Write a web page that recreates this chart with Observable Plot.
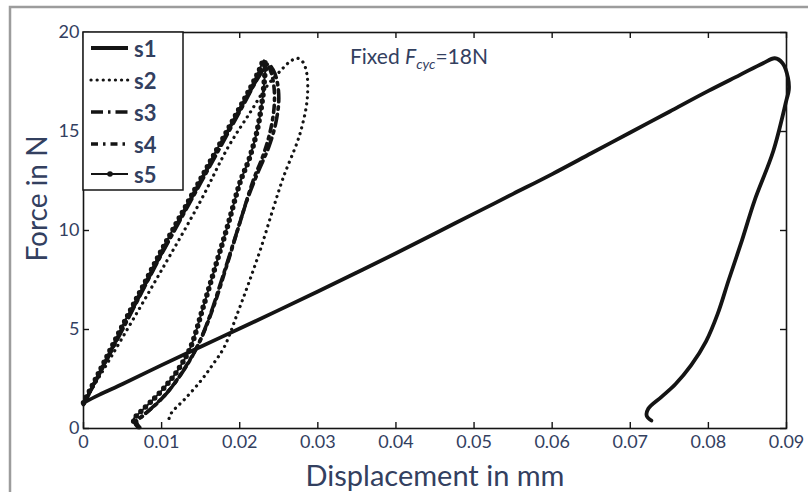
<!DOCTYPE html>
<html><head><meta charset="utf-8">
<script src="https://cdn.jsdelivr.net/npm/d3@7"></script>
<script src="https://cdn.jsdelivr.net/npm/@observablehq/plot@0.6"></script>
<style>body{margin:0;background:#fff} #chart{width:808px;height:492px}</style>
</head><body><div id="chart"></div>
<script>
// Displacement (mm), Force (N) pairs
const s1 = [[0,1.3],[0.002,1.7],[0.005,2.25],[0.01,3.2],[0.015,4.13],[0.02,5.05],[0.025,5.98],[0.03,6.92],[0.035,7.88],[0.04,8.85],[0.045,9.85],[0.05,10.85],[0.055,11.85],[0.06,12.85],[0.065,13.9],[0.07,14.95],[0.075,16.0],[0.08,17.05],[0.084,17.85],[0.087,18.45],[0.0885,18.7],[0.0895,18.45],[0.0902,17.7],[0.0903,17.1],[0.09,16.6],[0.0883,14.0],[0.0859,11.5],[0.0843,9.5],[0.0826,7.5],[0.0812,5.8],[0.0797,4.4],[0.0778,3.2],[0.0758,2.25],[0.074,1.6],[0.0723,1.0],[0.0721,0.65],[0.0727,0.4]];
const s2 = [[0,1.3],[0.002,2.6],[0.005,4.6],[0.01,8.0],[0.015,11.5],[0.0185,14.2],[0.0214,16.0],[0.0235,17.3],[0.0253,18.1],[0.0265,18.55],[0.0274,18.7],[0.0281,18.5],[0.0286,17.9],[0.0287,17.0],[0.0285,16.2],[0.028,15.3],[0.0274,14.5],[0.0256,12.7],[0.0242,11.0],[0.0227,9.1],[0.0212,7.4],[0.0197,5.8],[0.018,4.1],[0.0165,3.2],[0.015,2.4],[0.013,1.5],[0.0112,0.75],[0.0108,0.25]];
const s3 = [[0,1.2],[0.005,5.0],[0.01,8.8],[0.015,12.4],[0.02,16.0],[0.0225,17.8],[0.0236,18.4],[0.0243,18.1],[0.0248,17.5],[0.025,16.6],[0.0246,15.4],[0.0237,14.2],[0.0224,13.0],[0.021,11.6],[0.0193,9.5],[0.0176,7.4],[0.016,5.5],[0.0144,4.0],[0.0126,2.8],[0.0107,1.8],[0.0089,1.1],[0.0075,0.6],[0.0066,0.3],[0.007,0.05]];
const s4 = [[0,1.25],[0.005,5.05],[0.01,8.85],[0.015,12.5],[0.02,16.1],[0.0226,17.9],[0.0234,18.4],[0.024,18.0],[0.0244,17.2],[0.0244,16.2],[0.0239,15.0],[0.023,13.8],[0.0217,12.5],[0.0201,10.5],[0.0184,8.3],[0.0167,6.2],[0.015,4.5],[0.0132,3.2],[0.0113,2.1],[0.0095,1.3],[0.0079,0.75],[0.0068,0.35],[0.0072,0.05]];
const s5 = [[0,1.3],[0.002,2.85],[0.005,5.2],[0.0075,7.1],[0.01,9.0],[0.0125,10.8],[0.015,12.6],[0.0175,14.4],[0.02,16.2],[0.0215,17.3],[0.0225,18.1],[0.0231,18.6],[0.0233,18.3],[0.0232,17.8],[0.0229,16.6],[0.0222,15.0],[0.0212,13.6],[0.0201,12.5],[0.0185,10.3],[0.0169,8.2],[0.0153,6.1],[0.0137,4.1],[0.012,2.9],[0.0102,2.0],[0.0085,1.3],[0.0072,0.8],[0.0064,0.45],[0.0066,0.2]];
const seriesNames = ["s1","s2","s3","s4","s5"];
const xTicks = [0,0.01,0.02,0.03,0.04,0.05,0.06,0.07,0.08,0.09];
const yTicks = [0,5,10,15,20];
const xLabel = "Displacement in mm";
const yLabel = "Force in N";

const textColor = "#33405f";
const ink = "#141414";
const font = "Lato, 'Open Sans', sans-serif";
const styles = {
  s1: {strokeWidth: 3.8},
  s2: {strokeWidth: 3.2, strokeDasharray: "0.1 6", strokeLinecap: "round"},
  s3: {strokeWidth: 3.6, strokeDasharray: "12 5 2.5 5"},
  s4: {strokeWidth: 3.6, strokeDasharray: "7 5 2.5 5"},
  s5: {strokeWidth: 2}
};
const toRows = (arr) => arr.map(([d, f]) => ({d, f}));
const data = {s1: toRows(s1), s2: toRows(s2), s3: toRows(s3), s4: toRows(s4), s5: toRows(s5)};

const W = 808, H = 492, mL = 83, mR = 22, mT = 32, mB = 64;
const pw = W - mL - mR, ph = H - mT - mB, tl = 6;

const lineMarks = seriesNames.map(n => Plot.line(data[n], {x: "d", y: "f", stroke: ink, curve: "catmull-rom", ...styles[n]}));
lineMarks.push(Plot.line(data.s5, {x: "d", y: "f", stroke: ink, strokeWidth: 5.5, strokeDasharray: "0 6.5", strokeLinecap: "round", curve: "catmull-rom"}));

const plot = Plot.plot({
  width: W, height: H,
  marginLeft: mL, marginRight: mR, marginTop: mT, marginBottom: mB,
  style: {fontFamily: font, color: textColor, background: "#fff"},
  x: {domain: [0, 0.09]},
  y: {domain: [0, 20]},
  marks: [
    ...lineMarks,
    Plot.tickX(xTicks, {x: d => d, insetTop: ph - tl, stroke: ink, strokeWidth: 1.4}),
    Plot.tickX(xTicks, {x: d => d, insetBottom: ph - tl, stroke: ink, strokeWidth: 1.4}),
    Plot.tickY(yTicks, {y: d => d, insetRight: pw - tl, stroke: ink, strokeWidth: 1.4}),
    Plot.tickY(yTicks, {y: d => d, insetLeft: pw - tl, stroke: ink, strokeWidth: 1.4}),
    Plot.frame({stroke: ink, strokeWidth: 1.6}),
    Plot.axisX(xTicks, {tickSize: 0, tickPadding: 7, fontSize: 18, fill: textColor, label: null,
      tickFormat: d => d === 0 ? "0" : d.toFixed(2)}),
    Plot.axisY(yTicks, {tickSize: 0, tickPadding: 4, fontSize: 18, fill: textColor, label: null}),
    Plot.text([xLabel], {frameAnchor: "bottom", textAnchor: "middle", lineAnchor: "bottom", dy: 57, fontSize: 29, fill: textColor}),
    Plot.text([yLabel], {frameAnchor: "left", textAnchor: "middle", rotate: -90, dx: -45, dy: -32, fontSize: 28, fill: textColor})
  ]
});
document.getElementById("chart").appendChild(plot);

const svg = d3.select(plot);
// outer gray frame of the figure
svg.append("path").attr("d", `M10,${H} V7 H${W}`).attr("fill", "none").attr("stroke", "#9c9c9c").attr("stroke-width", 2.5);

// legend
const lg = svg.append("g").attr("text-anchor", "start");
lg.append("rect").attr("x", mL).attr("y", mT).attr("width", 100).attr("height", 158)
  .attr("fill", "#fff").attr("stroke", ink).attr("stroke-width", 1.5);
const rowY = [48, 80, 112, 144, 174];
seriesNames.forEach((n, i) => {
  const st = styles[n];
  lg.append("line").attr("x1", 91).attr("x2", 128).attr("y1", rowY[i]).attr("y2", rowY[i])
    .attr("stroke", ink).attr("stroke-width", st.strokeWidth)
    .attr("stroke-dasharray", st.strokeDasharray || null)
    .attr("stroke-linecap", st.strokeLinecap || null);
  if (n === "s5") lg.append("circle").attr("cx", 110).attr("cy", rowY[i]).attr("r", 2.8).attr("fill", ink);
  lg.append("text").attr("x", 134).attr("y", rowY[i] + 9).text(n)
    .attr("font-family", font).attr("font-size", 22).attr("font-weight", "bold").attr("fill", textColor);
});

// annotation
const ann = svg.append("text").attr("text-anchor", "start").attr("x", 350).attr("y", 64)
  .attr("font-family", font).attr("font-size", 21).attr("fill", textColor);
ann.append("tspan").text("Fixed ");
ann.append("tspan").attr("font-style", "italic").text("F");
ann.append("tspan").attr("font-style", "italic").attr("font-size", 14).attr("dy", 5).text("cyc");
ann.append("tspan").attr("dy", -5).text("=18N");
</script>
</body></html>
